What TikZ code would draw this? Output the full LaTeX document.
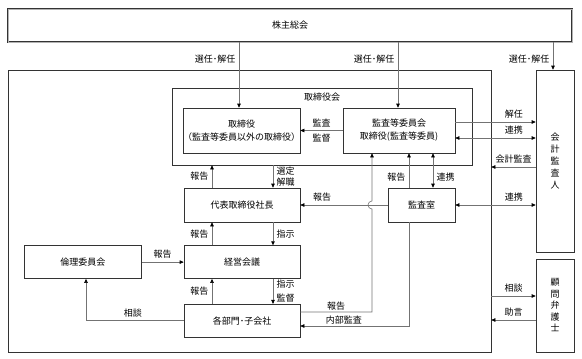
\documentclass[tikz,border=0pt]{standalone}
\usepackage{fontspec}
\setmainfont{Noto Sans CJK JP}
\usepackage{tikz}
\usetikzlibrary{arrows.meta, positioning}

\tikzset{
  org/.style={draw=black!80, line width=0.6pt, rectangle, inner sep=0pt, align=center},
  link/.style={draw=black!55, line width=0.6pt},
  lbl/.style={inner sep=1pt},
}

\begin{document}
\begin{tikzpicture}[x=1pt, y=-1pt, font=\fontsize{9}{11}\selectfont,
    >={Triangle[length=4pt, width=3.5pt, color=black]}]
  \useasboundingbox (0,0) rectangle (582,359);

  \node[org, double=black!30, double distance=1pt, minimum width=564pt, minimum height=33pt] (soukai) at (290,25.5) {株主総会};
  \node[org, minimum width=483pt, minimum height=282pt] (frame) at (249.5,211) {};
  \node[org, minimum width=300pt, minimum height=77pt,
        label={[anchor=north, yshift=-2pt]north:取締役会}] (bod) at (322,126.5) {};
  \node[org, minimum width=117pt, minimum height=45pt, font=\fontsize{9}{13}\selectfont] (torishimariyaku) at (241.5,130.5) {取締役\\（監査等委員以外の取締役）};
  \node[org, minimum width=112pt, minimum height=45pt, font=\fontsize{9}{13}\selectfont] (kansatou) at (399,130.5) {監査等委員会\\取締役(監査等委員)};
  \node[org, minimum width=38pt, minimum height=182pt, font=\fontsize{9}{11.8}\selectfont] (kaikei) at (555,161) {会\\計\\監\\査\\人};
  \node[org, minimum width=38pt, minimum height=93pt, font=\fontsize{9}{11.5}\selectfont] (komon) at (555,305.5) {顧\\問\\弁\\護\\士};
  \node[org, minimum width=116pt, minimum height=34pt] (daihyo) at (242,205) {代表取締役社長};
  \node[org, minimum width=67pt, minimum height=34pt] (kansashitsu) at (421.5,205) {監査室};
  \node[org, minimum width=116pt, minimum height=33pt, below=23pt of daihyo] (keiei) {経営会議};
  \node[org, minimum width=117pt, minimum height=33pt, left=42pt of keiei] (rinri) {倫理委員会};
  \node[org, minimum width=116pt, minimum height=33pt, below=25pt of keiei] (kakubumon) {各部門･子会社};

  % 株主総会から
  \draw[link,->] (soukai.south -| 239,0) -- node[left, pos=0.26] {選任･解任} (torishimariyaku.north -| 239,0);
  \draw[link,->] (soukai.south -| 398,0) -- node[left, pos=0.26] {選任･解任} (kansatou.north -| 398,0);
  \draw[link,->] (soukai.south -| 553,0) -- node[left, pos=0.63] {選任･解任} (kaikei.north -| 553,0);

  % 取締役会
  \draw[link,->] (kansatou.west) -- node[above] {監査} node[below] {監督} (torishimariyaku.east);

  % 会計監査人
  \draw[link,->] (kansatou.east |- 0,122) -- node[above, pos=0.73] {解任} (kaikei.west |- 0,122);
  \draw[link,<->] (kansatou.east |- 0,138) -- node[above, pos=0.73] {連携} (kaikei.west |- 0,138);
  \draw[link,->] (kaikei.west |- 0,167) -- node[above] {会計監査} (frame.east |- 0,167);
  \draw[link,<->] (kansashitsu.east) -- node[above, pos=0.73] {連携} (kaikei.west |- kansashitsu.east);

  % 代表取締役社長・経営会議
  \draw[link,->] (daihyo.north -| 212,0) -- node[left] {報告} (bod.south -| 212,0);
  \draw[link,->] (bod.south -| 273,0) -- node[right, align=left] {選定\\解職} (daihyo.north -| 273,0);
  \draw[link,->] (kansashitsu.west) -- node[above, pos=0.75] {報告} (daihyo.east);
  \draw[link,->] (keiei.north -| 212,0) -- node[left] {報告} (daihyo.south -| 212,0);
  \draw[link,->] (daihyo.south -| 273,0) -- node[right] {指示} (keiei.north -| 273,0);
  \draw[link,->] (rinri) -- node[above] {報告} (keiei);
  \draw[link,->] (kakubumon.north -| 212,0) -- node[left] {報告} (keiei.south -| 212,0);
  \draw[link,->] (keiei.south -| 273,0) -- node[right, align=left] {指示\\[3pt]監督} (kakubumon.north -| 273,0);
  \draw[link,->] (kakubumon.west) -| node[above, pos=0.26] {相談} (rinri.south -| 86,0);

  % 監査室
  \draw[link,->] (kansashitsu.north -| 409,0) -- node[left, pos=0.3] {報告} (kansatou.south -| 409,0);
  \draw[link,<->] (kansashitsu.north -| 433,0) -- node[right, pos=0.3] {連携} (kansatou.south -| 433,0);
  \draw[link,->] (kansashitsu.south -| 409,0) |- node[above, lbl, pos=0.8] {内部監査} (kakubumon.east |- 0,326);
  \draw[link,->] (kakubumon.east |- 0,312) -- node[above, lbl] {報告} (372,312) -- (372,209)
    arc[start angle=-90, end angle=-270, radius=4pt] -- (kansatou.south -| 372,0);

  % 顧問弁護士
  \draw[link,->] (frame.east |- 0,296) -- node[above] {相談} (komon.west |- 0,296);
  \draw[link,->] (komon.west |- 0,320) -- node[above] {助言} (frame.east |- 0,320);
\end{tikzpicture}
\end{document}
